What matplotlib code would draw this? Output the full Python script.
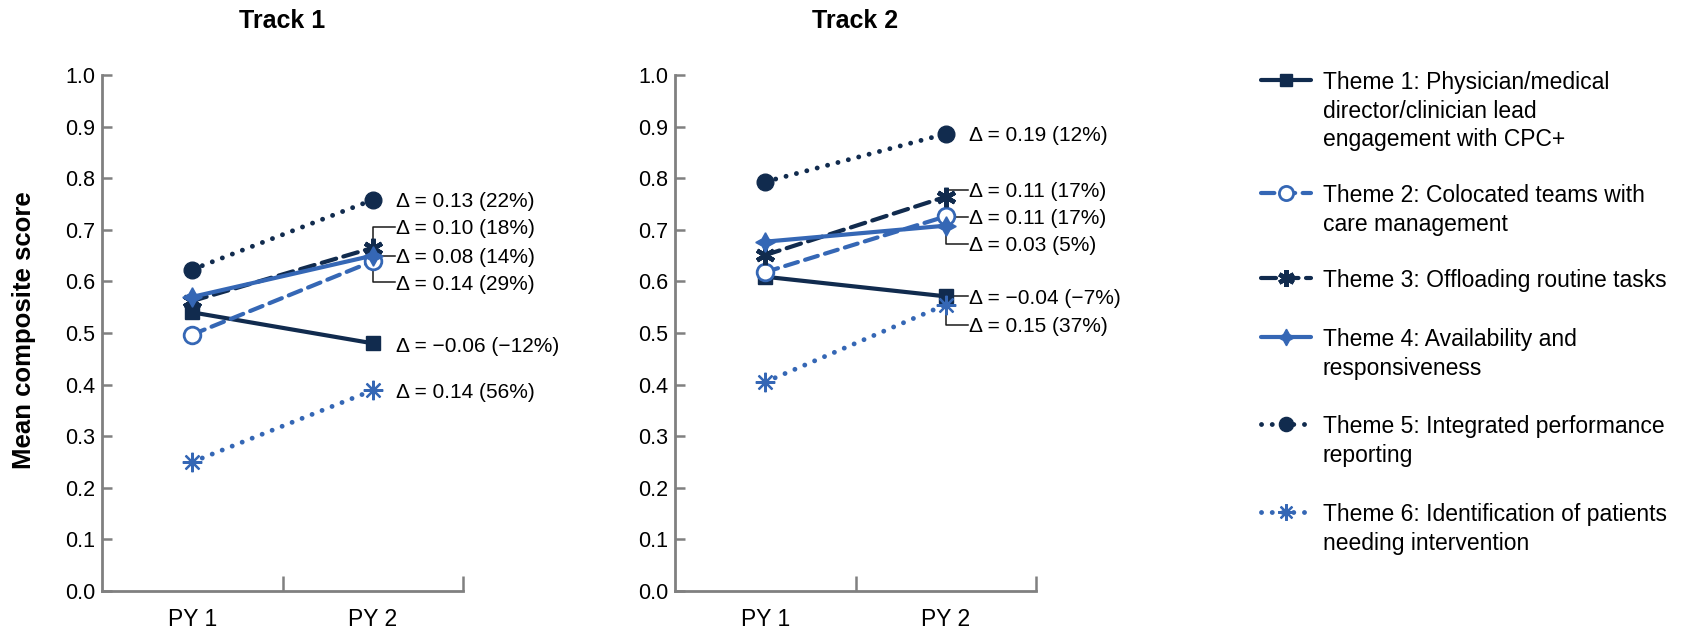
import matplotlib
matplotlib.use('Agg')
import matplotlib.pyplot as plt

plt.rcParams['font.family'] = ['Liberation Sans', 'DejaVu Sans']

# ---------------- data ----------------
years = ['PY 1', 'PY 2']
tracks = ['Track 1', 'Track 2']
themes = [
    'Theme 1: Physician/medical\ndirector/clinician lead\nengagement with CPC+',
    'Theme 2: Colocated teams with\ncare management',
    'Theme 3: Offloading routine tasks',
    'Theme 4: Availability and\nresponsiveness',
    'Theme 5: Integrated performance\nreporting',
    'Theme 6: Identification of patients\nneeding intervention',
]
track1_py1 = [0.540, 0.497, 0.562, 0.570, 0.623, 0.250]
track1_py2 = [0.480, 0.639, 0.665, 0.650, 0.758, 0.389]
track2_py1 = [0.609, 0.618, 0.651, 0.677, 0.793, 0.405]
track2_py2 = [0.571, 0.726, 0.764, 0.708, 0.886, 0.555]
track1_delta = ['\u0394 = \u22120.06 (\u221212%)', '\u0394 = 0.14 (29%)', '\u0394 = 0.10 (18%)',
                '\u0394 = 0.08 (14%)', '\u0394 = 0.13 (22%)', '\u0394 = 0.14 (56%)']
track2_delta = ['\u0394 = \u22120.04 (\u22127%)', '\u0394 = 0.11 (17%)', '\u0394 = 0.11 (17%)',
                '\u0394 = 0.03 (5%)', '\u0394 = 0.19 (12%)', '\u0394 = 0.15 (37%)']
yticks = [0.0, 0.1, 0.2, 0.3, 0.4, 0.5, 0.6, 0.7, 0.8, 0.9, 1.0]

# ---------------- layout / style ----------------
NAVY = '#112b4e'
BLUE = '#3567b5'
styles = [
    dict(color=NAVY, ls='-', lw=3, marker='s', ms=10.5, mfc=NAVY, mec=NAVY, mew=1),
    dict(color=BLUE, ls=(0, (3.2, 1.8)), lw=3, marker='o', ms=12, mfc='white', mec=BLUE, mew=2),
    dict(color=NAVY, ls=(0, (3.6, 1.8)), lw=3, marker=(6, 2, 0), ms=14, mfc=NAVY, mec=NAVY, mew=3.2),
    dict(color=BLUE, ls='-', lw=3, marker=(4, 1, 0), ms=14, mfc=BLUE, mec=BLUE, mew=1),
    dict(color=NAVY, ls=(0, (0.01, 2.2)), lw=3.5, marker='o', ms=12, mfc=NAVY, mec=NAVY, mew=1),
    dict(color=BLUE, ls=(0, (0.01, 2.2)), lw=3.5, marker=(8, 2, 0), ms=14, mfc=BLUE, mec=BLUE, mew=1.6),
]
# annotation label heights (layout positions, to avoid overlap) and leader flags
t1_label_y = [0.478, 0.598, 0.706, 0.650, 0.758, 0.389]
t1_leader = [False, True, True, True, False, False]
t2_label_y = [0.571, 0.725, 0.778, 0.673, 0.886, 0.516]
t2_leader = [True, True, True, True, False, True]

W, H = 1703, 632
fig = plt.figure(figsize=(W / 100, H / 100), dpi=100)

ax_px = [(102, 463), (675, 1036)]
top_px, bot_px = 75, 591

panels = [
    (track1_py1, track1_py2, track1_delta, t1_label_y, t1_leader),
    (track2_py1, track2_py2, track2_delta, t2_label_y, t2_leader),
]

ANN_FS = 15
for k, (p1, p2, deltas, ly, lead) in enumerate(panels):
    x0, x1 = ax_px[k]
    ax = fig.add_axes([x0 / W, 1 - bot_px / H, (x1 - x0) / W, (bot_px - top_px) / H])
    ax.set_xlim(-0.5, 1.5)
    ax.set_ylim(0, 1)
    for sp in ['top', 'right']:
        ax.spines[sp].set_visible(False)
    for sp in ['left', 'bottom']:
        ax.spines[sp].set_color('#808080')
        ax.spines[sp].set_linewidth(2)
    ax.set_yticks(yticks)
    ax.set_yticklabels([f'{v:.1f}' for v in yticks])
    ax.tick_params(axis='y', direction='in', length=7, width=1.8, color='#808080',
                   labelsize=15.5, pad=5, labelcolor='black')
    ax.set_xticks([0, 1])
    ax.set_xticklabels(years)
    ax.tick_params(axis='x', which='major', length=0, pad=12, labelsize=16.5)
    ax.set_xticks([0.5, 1.5], minor=True)
    ax.tick_params(axis='x', which='minor', direction='in', length=11, width=1.8, color='#808080')
    fig.text(((x0 + x1) / 2) / W, 1 - 21 / H, tracks[k], ha='center', va='center',
             fontsize=18, fontweight='bold')

    xt = 1.13
    for i in range(6):
        st = styles[i]
        ax.plot([0, 1], [p1[i], p2[i]], color=st['color'], ls=st['ls'], lw=st['lw'],
                marker=st['marker'], ms=st['ms'], mfc=st['mfc'], mec=st['mec'], mew=st['mew'],
                dash_capstyle='round', solid_capstyle='butt', zorder=3 + i * 0.1, clip_on=False)
        if lead[i]:
            ax.plot([1, 1, xt - 0.005], [p2[i], ly[i], ly[i]], color='#1a1a1a', lw=1.1,
                    zorder=2, clip_on=False)
        ax.annotate(deltas[i], xy=(xt, ly[i]), xytext=(0, -5.4), textcoords='offset points',
                    ha='left', va='baseline', fontsize=ANN_FS, color='black',
                    annotation_clip=False)

fig.text(24 / W, 1 - 330 / H, 'Mean composite score', rotation=90, ha='center', va='center',
         fontsize=18.5, fontweight='bold')

# ---------------- legend ----------------
lax = fig.add_axes([0, 0, 1, 1])
lax.set_xlim(0, W)
lax.set_ylim(H, 0)
lax.axis('off')
leg_y = [80, 193, 278, 337, 424, 512]
LEG_FS = 16.5
for i in range(6):
    st = styles[i]
    y = leg_y[i]
    lax.plot([1261, 1286, 1311], [y, y, y], color=st['color'], ls=st['ls'], lw=st['lw'],
             marker=st['marker'], markevery=[1], ms=st['ms'] * 0.85, mfc=st['mfc'], mec=st['mec'],
             mew=st['mew'], dash_capstyle='round', solid_capstyle='round')
    lax.text(1323, y - 8.7, themes[i], ha='left', va='top', fontsize=LEG_FS,
             linespacing=1.3)

fig.savefig('out.png', dpi=100)
